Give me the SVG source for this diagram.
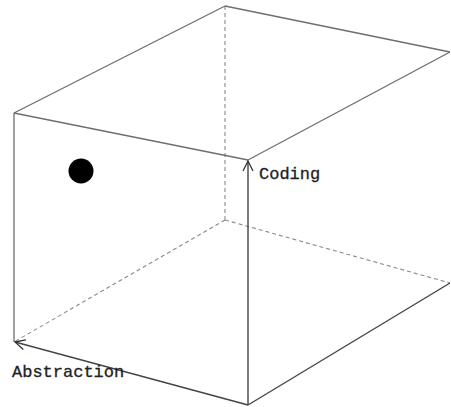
<svg xmlns="http://www.w3.org/2000/svg" width="451" height="407" viewBox="0 0 451 407">
<style>
.solid{stroke:#6e6e6e;stroke-width:1.3;fill:none}
.dark{stroke:#444;stroke-width:1.4;fill:none}
.dash{stroke:#8a8a8a;stroke-width:1.1;stroke-dasharray:4 3;fill:none}
.lbl{font-family:"Liberation Mono","DejaVu Sans Mono",monospace;font-size:17px;fill:#222;stroke:#222;stroke-width:0.3}
</style>
<defs>
<marker id="open" viewBox="0 0 12 12" refX="11" refY="6" markerWidth="12" markerHeight="12" markerUnits="userSpaceOnUse" orient="auto">
<path d="M1,1 L11,6 L1,11" fill="none" stroke="#333" stroke-width="1.3"/>
</marker>
</defs>
<rect width="451" height="407" fill="#fff"/>
<g id="connectors">
<line class="dash" x1="225" y1="6" x2="225" y2="220"/>
<line class="dash" x1="225" y1="220" x2="14" y2="342"/>
<line class="dash" x1="225" y1="220" x2="450" y2="283"/>
<line class="solid" x1="14" y1="113" x2="225" y2="6"/>
<line class="solid" x1="225" y1="6" x2="450" y2="52"/>
<line class="solid" x1="450" y1="52" x2="248" y2="160"/>
<line class="solid" x1="14" y1="113" x2="248" y2="160"/>
<line class="solid" x1="14" y1="113" x2="14" y2="342"/>
<line class="dark" x1="248" y1="405" x2="248" y2="161" marker-end="url(#open)"/>
<line class="dark" x1="248" y1="405" x2="15" y2="342" marker-end="url(#open)"/>
<line class="dark" x1="248" y1="405" x2="450" y2="283"/>
</g>
<g id="point"><circle cx="81" cy="171" r="12.5" fill="#000"/></g>
<g id="coding"><text class="lbl" x="259" y="179">Coding</text></g>
<g id="abstraction"><text class="lbl" x="12" y="377">Abstraction</text></g>
</svg>
